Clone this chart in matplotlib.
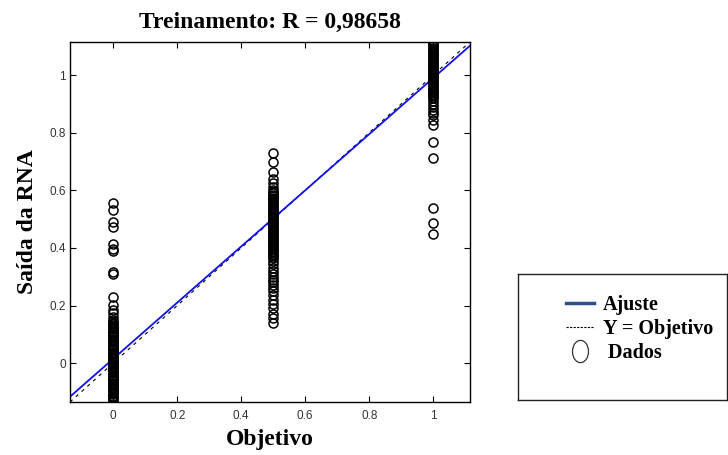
import numpy as np
import matplotlib
matplotlib.use("Agg")
import matplotlib.pyplot as plt
from matplotlib.lines import Line2D
from matplotlib.path import Path
from matplotlib.transforms import Affine2D

# titulos / rotulos
titulo = "Treinamento: R = 0,98658"
rotulo_x = "Objetivo"
rotulo_y = "Saída da RNA"
legenda = ["Ajuste", "Y = Objetivo", " Dados"]

# alvos (classes) e saidas da rede
alvo_0 = 0.0
saida_0 = [-0.13, -0.126, -0.122, -0.118, -0.113, -0.108, -0.104, -0.1, -0.095, -0.09,
           -0.086, -0.082, -0.077, -0.072, -0.068, -0.063, -0.058, -0.054, -0.05, -0.045,
           -0.04, -0.036, -0.031, -0.027, -0.022, -0.018, -0.013, -0.009, -0.004, 0.0,
           0.004, 0.009, 0.013, 0.018, 0.022, 0.027, 0.031, 0.036, 0.04, 0.045,
           0.049, 0.054, 0.058, 0.063, 0.067, 0.072, 0.076, 0.081, 0.085, 0.09,
           0.094, 0.099, 0.103, 0.108, 0.112, 0.117, 0.121, 0.126, 0.13, 0.135,
           0.139, 0.144, 0.148, 0.161, 0.175, 0.184, 0.201, 0.23, 0.311, 0.318,
           0.388, 0.395, 0.415, 0.471, 0.491, 0.531, 0.555]
alvo_05 = 0.5
saida_05 = [0.14, 0.155, 0.17, 0.19, 0.205, 0.22, 0.235, 0.25, 0.26, 0.27,
            0.28, 0.29, 0.3, 0.31, 0.32, 0.33, 0.345, 0.355, 0.365, 0.37,
            0.375, 0.38, 0.385, 0.39, 0.395, 0.4, 0.405, 0.41, 0.415, 0.42,
            0.425, 0.43, 0.435, 0.44, 0.445, 0.45, 0.455, 0.46, 0.465, 0.47,
            0.475, 0.48, 0.485, 0.49, 0.495, 0.5, 0.505, 0.51, 0.515, 0.52,
            0.525, 0.53, 0.535, 0.54, 0.545, 0.55, 0.555, 0.56, 0.565, 0.57,
            0.575, 0.58, 0.585, 0.59, 0.595, 0.6, 0.61, 0.624, 0.64, 0.664,
            0.699, 0.728]
alvo_1 = 1.0
saida_1 = [0.45, 0.485, 0.537, 0.711, 0.768, 0.826, 0.845, 0.86, 0.87, 0.88,
           0.89, 0.9, 0.91, 0.92, 0.925, 0.93, 0.935, 0.94, 0.945, 0.95,
           0.955, 0.96, 0.965, 0.97, 0.975, 0.98, 0.985, 0.99, 0.995, 1.0,
           1.005, 1.01, 1.015, 1.02, 1.025, 1.03, 1.035, 1.04, 1.045, 1.05,
           1.055, 1.06, 1.065, 1.07, 1.075, 1.08, 1.085, 1.09, 1.095, 1.1,
           1.105, 1.11, 1.115]

# reta de ajuste: saida = a*alvo + b
coef_a = 0.975
coef_b = 0.015

limites = [-0.135, 1.115]
ticks = [0, 0.2, 0.4, 0.6, 0.8, 1]
tick_labels = ["0", "0.2", "0.4", "0.6", "0.8", "1"]

serif = ["Liberation Serif", "DejaVu Serif"]

fig = plt.figure(figsize=(7.28, 4.55), dpi=100)
ax = fig.add_axes([70/728, 1-402/455, 400/728, 360/455])

x_alvos = [alvo_0]*len(saida_0) + [alvo_05]*len(saida_05) + [alvo_1]*len(saida_1)
y_saidas = saida_0 + saida_05 + saida_1

xl = np.array(limites)
ax.plot(xl, xl, color="black", lw=0.8, ls=(0, (3, 4)))
ax.plot(xl, coef_a*xl + coef_b, color="#1010ee", lw=1.3)
ax.plot(x_alvos, y_saidas, ls="none", marker="o", ms=6.5, mfc="none",
        mec="black", mew=1.1)

ax.set_xlim(limites)
ax.set_ylim(limites)
ax.set_xticks(ticks)
ax.set_xticklabels(tick_labels)
ax.set_yticks(ticks)
ax.set_yticklabels(tick_labels)
ax.tick_params(direction="in", top=True, right=True, length=4, width=0.8,
               labelsize=8.5, labelcolor="#333333")
ax.tick_params(axis="x", pad=6)
ax.tick_params(axis="y", pad=3)
for lab in ax.get_xticklabels() + ax.get_yticklabels():
    lab.set_family("Liberation Sans")
for s in ax.spines.values():
    s.set_linewidth(1.0)

ax.set_title(titulo, family=serif, fontweight="bold", fontsize=17, pad=10)
ax.set_xlabel(rotulo_x, family=serif, fontweight="bold", fontsize=17, labelpad=5)
ax.set_ylabel(rotulo_y, family=serif, fontweight="bold", fontsize=17, labelpad=8)

# caixa da legenda separada
lax = fig.add_axes([518/728, 1-400/455, 209/728, 126/455])
lax.set_xticks([])
lax.set_yticks([])
for s in lax.spines.values():
    s.set_linewidth(1.0)
    s.set_color("#222222")

elipse = Path.unit_circle().transformed(Affine2D().scale(0.72, 1.0))
h1 = Line2D([], [], color="#2f4f8c", lw=2.5)
h2 = Line2D([], [], color="black", lw=0.8, ls=(0, (2, 1.2)))
h3 = Line2D([], [], ls="none", marker=elipse, ms=16, mfc="none", mec="#333333", mew=0.9)
lax.legend([h1, h2, h3], legenda, loc="upper left", bbox_to_anchor=(0.18, 0.91),
           frameon=False, prop={"family": serif, "weight": "bold", "size": 14.5},
           handlelength=1.4, handletextpad=0.45, labelspacing=0.18, borderpad=0)

fig.savefig("out.png", dpi=100)
